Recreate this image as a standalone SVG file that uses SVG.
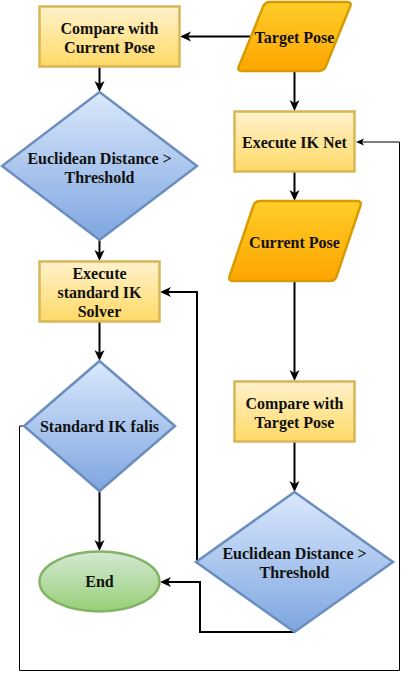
<svg xmlns="http://www.w3.org/2000/svg" width="408" height="680" viewBox="0 0 408 680">
<style>
.t{font-family:"Liberation Serif","Times New Roman",serif;font-weight:bold;font-size:16px;fill:#111;text-anchor:middle}
.box{fill:url(#gy);stroke:#d6b656;stroke-width:2.5}
.io{fill:url(#go);stroke:#d79b00;stroke-width:2.5}
.dec{fill:url(#gb);stroke:#6c8ebf;stroke-width:2.5}
.end{fill:url(#gg);stroke:#82b366;stroke-width:2.5}
.c{fill:none;stroke:#000;stroke-width:2;marker-end:url(#ah)}
.thin{fill:none;stroke:#000;stroke-width:1;marker-end:url(#ahs)}
</style>
<defs>
<linearGradient id="gy" x1="0" y1="0" x2="0" y2="1"><stop offset="0" stop-color="#fff2cc"/><stop offset="1" stop-color="#ffd966"/></linearGradient>
<linearGradient id="go" x1="0" y1="0" x2="0" y2="1"><stop offset="0" stop-color="#ffcd28"/><stop offset="1" stop-color="#ffa500"/></linearGradient>
<linearGradient id="gb" x1="0" y1="0" x2="0" y2="1"><stop offset="0" stop-color="#dae8fc"/><stop offset="1" stop-color="#7ea6e0"/></linearGradient>
<linearGradient id="gg" x1="0" y1="0" x2="0" y2="1"><stop offset="0" stop-color="#d5e8d4"/><stop offset="1" stop-color="#97d077"/></linearGradient>
<marker id="ah" markerUnits="userSpaceOnUse" markerWidth="12" markerHeight="12" viewBox="0 0 12 12" refX="8" refY="6" orient="auto">
<path d="M0,1 L11,6 L0,11 L3,6 Z" fill="#000"/>
</marker>
<marker id="ahs" markerUnits="userSpaceOnUse" markerWidth="10" markerHeight="10" viewBox="0 0 10 10" refX="6" refY="5" orient="auto">
<path d="M0,1.5 L8,5 L0,8.5 L2,5 Z" fill="#000"/>
</marker>
</defs>
<g id="connectors">
<path class="c" d="M250,36.5 L183,36.5"/>
<path class="c" d="M294.5,72 L294.5,108"/>
<path class="c" d="M294.5,172 L294.5,198"/>
<path class="c" d="M294.5,281 L294.5,378"/>
<path class="c" d="M294.5,442 L294.5,489"/>
<path class="c" d="M99.5,67 L99.5,89"/>
<path class="c" d="M99.5,240 L99.5,258"/>
<path class="c" d="M99.5,322 L99.5,358"/>
<path class="c" d="M99.5,491 L99.5,548"/>
<path class="c" d="M197,562 L197,292 L163,292"/>
<path class="c" d="M294.5,632 L200,632 L200,582 L163,582"/>
<path class="thin" d="M24,426 L19.5,426 L19.5,670.5 L399.5,670.5 L399.5,142 L358,142"/>
</g>
<g id="compare-current">
<rect class="box" x="39.5" y="6.5" width="140" height="60"/>
<text class="t" x="109.5" y="33.5">Compare with</text>
<text class="t" x="109.5" y="52.5">Current Pose</text>
</g>
<g id="target-pose">
<path class="io" d="M270,2 L347,2 Q352,2 350.14,6.64 L325.86,66.36 Q324,71 319,71 L242,71 Q237,71 238.86,66.36 L263.14,6.64 Q265,2 270,2 Z"/>
<text class="t" x="294.5" y="42.5">Target Pose</text>
</g>
<g id="execute-ik-net">
<rect class="box" x="234.5" y="111.5" width="120" height="60"/>
<text class="t" x="294.5" y="147.5">Execute IK Net</text>
</g>
<g id="decision-left-1">
<polygon class="dec" points="99.5,92 197,166 99.5,240 2,166"/>
<text class="t" x="99.5" y="163.5">Euclidean Distance &gt;</text>
<text class="t" x="99.5" y="182.5">Threshold</text>
</g>
<g id="current-pose">
<path class="io" d="M260,201 L357,201 Q362,201 360.4,205.74 L336.6,276.26 Q335,281 330,281 L233,281 Q228,281 229.6,276.26 L253.4,205.74 Q255,201 260,201 Z"/>
<text class="t" x="294.5" y="247.5">Current Pose</text>
</g>
<g id="execute-standard">
<rect class="box" x="39.5" y="261.5" width="120" height="60"/>
<text class="t" x="99.5" y="278.5">Execute</text>
<text class="t" x="99.5" y="297.5">standard IK</text>
<text class="t" x="99.5" y="316.5">Solver</text>
</g>
<g id="compare-target">
<rect class="box" x="234.5" y="381.5" width="120" height="60"/>
<text class="t" x="294.5" y="408.5">Compare with</text>
<text class="t" x="294.5" y="427.5">Target Pose</text>
</g>
<g id="decision-left-2">
<polygon class="dec" points="99.5,361 175,426 99.5,491 24,426"/>
<text class="t" x="99.5" y="432">Standard IK falis</text>
</g>
<g id="decision-right">
<polygon class="dec" points="294.5,492 393,562 294.5,632 196,562"/>
<text class="t" x="294.5" y="558.5">Euclidean Distance &gt;</text>
<text class="t" x="294.5" y="577.5">Threshold</text>
</g>
<g id="end">
<ellipse class="end" cx="99.5" cy="581.5" rx="60" ry="30"/>
<text class="t" x="99.5" y="587">End</text>
</g>
</svg>
